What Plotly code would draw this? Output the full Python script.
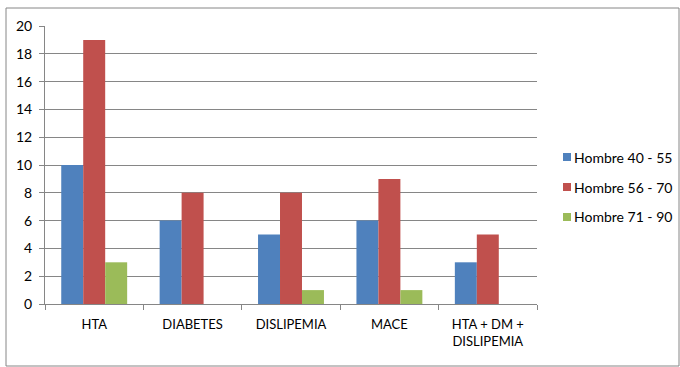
import plotly.graph_objects as go

categories = ["HTA", "DIABETES", "DISLIPEMIA", "MACE", "HTA + DM +<br>DISLIPEMIA"]
series_names = ["Hombre 40 - 55", "Hombre 56 - 70", "Hombre 71 - 90"]
hombre_40_55 = [10, 6, 5, 6, 3]
hombre_56_70 = [19, 8, 8, 9, 5]
hombre_71_90 = [3, 0, 1, 1, 0]
colors = ["#4F81BD", "#C0504D", "#9BBB59"]
y_ticks = [0, 2, 4, 6, 8, 10, 12, 14, 16, 18, 20]

font_family = "Lato, 'Open Sans', sans-serif"
axis_gray = "#868686"

W, H = 680, 367
L, R, T, B = 45, 143, 26, 63
plot_w, plot_h = W - L - R, H - T - B


def px_x(x):
    return (x - L) / plot_w


def px_y(y):
    return (H - B - y) / plot_h


fig = go.Figure()
for i, (name, vals) in enumerate(zip(series_names, [hombre_40_55, hombre_56_70, hombre_71_90])):
    fig.add_trace(go.Bar(
        x=categories, y=vals, name=name,
        marker=dict(color=colors[i], line=dict(width=0)),
        showlegend=False,
    ))

# Legend drawn as small squares with labels to the right of the plot
shapes = [dict(
    type="rect", xref="paper", yref="paper",
    x0=px_x(6), x1=px_x(679), y0=px_y(366), y1=px_y(8),
    line=dict(color=axis_gray, width=1), fillcolor="rgba(0,0,0,0)",
    layer="below",
)]
annotations = []
for i, name in enumerate(series_names):
    cy = 157 + 30 * i
    shapes.append(dict(
        type="rect", xref="paper", yref="paper",
        x0=px_x(563), x1=px_x(571), y0=px_y(cy + 4), y1=px_y(cy - 4),
        line=dict(width=0), fillcolor=colors[i],
    ))
    annotations.append(dict(
        xref="paper", yref="paper", x=px_x(572), y=px_y(cy),
        xanchor="left", yanchor="middle", text=name, showarrow=False,
        font=dict(size=14, family=font_family, color="#000000"),
    ))

fig.update_layout(
    width=W, height=H,
    margin=dict(l=L, r=R, t=T, b=B, autoexpand=False),
    paper_bgcolor="white", plot_bgcolor="white",
    barmode="group", bargap=0.33, bargroupgap=0,
    font=dict(family=font_family, size=13, color="#000000"),
    showlegend=False,
    xaxis=dict(
        showgrid=False, showline=True, linecolor=axis_gray, linewidth=1,
        ticks="outside", tickson="boundaries", ticklen=5, tickcolor=axis_gray,
        tickfont=dict(size=13), zeroline=False, ticklabelstandoff=8,
    ),
    yaxis=dict(
        range=[0, 20], tickvals=y_ticks,
        showgrid=True, gridcolor=axis_gray, gridwidth=1,
        showline=True, linecolor=axis_gray, linewidth=1,
        ticks="outside", ticklen=5, tickcolor=axis_gray,
        tickfont=dict(size=14), zeroline=False, ticklabelstandoff=4,
    ),
    shapes=shapes,
    annotations=annotations,
)

fig.write_html("out.html")
